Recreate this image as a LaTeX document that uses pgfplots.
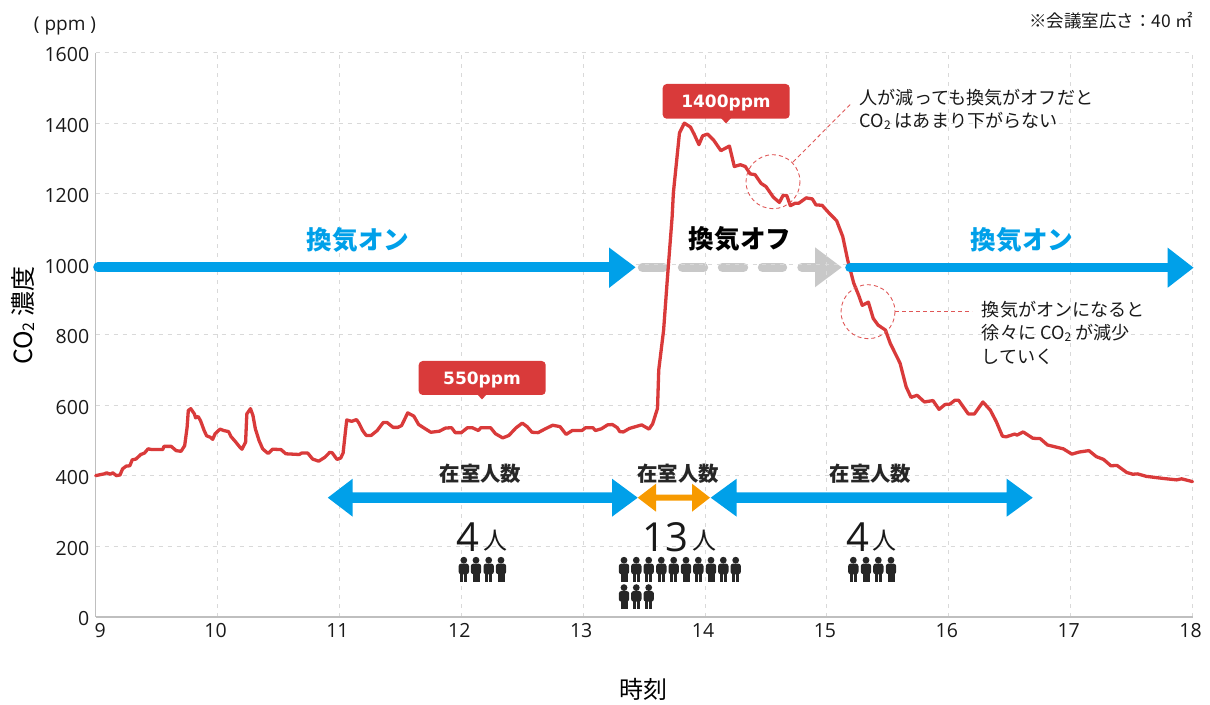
\documentclass[border=0pt]{standalone}
\usepackage{pgfplots}
\pgfplotsset{compat=1.18}
\usepackage{fontspec}
\setmainfont{Open Sans}
\newfontfamily\cjk{Noto Sans CJK JP}
\newfontfamily\dvb{DejaVu Sans}
\definecolor{cred}{HTML}{D93A3A}
\definecolor{cblue}{HTML}{00A0E9}
\definecolor{corange}{HTML}{F79A00}
\definecolor{cgrey}{HTML}{C8C8C8}
\definecolor{cperson}{HTML}{262626}
\newcommand\fs[1]{\fontsize{#1}{#1}\selectfont}
\newcommand\sub{\raisebox{-0.15ex}{\fs{12}2}}
% x, top y
\newcommand\person[2]{%
 \begin{scope}[shift={(#1,#2)}]
  \fill[cperson] (0,3.4) circle (3.4);
  \fill[cperson,rounded corners=2.6] (-5.2,6.8) rectangle (5.2,17.5);
  \fill[cperson] (-3.5,10) rectangle (-0.35,25);
  \fill[cperson] (0.35,10) rectangle (3.5,25);
 \end{scope}}
\pgfplotstableread{
h ppm
9.00 401
9.04 404
9.07 406
9.09 409
9.12 405
9.14 409
9.17 401
9.20 403
9.22 420
9.25 428
9.28 429
9.30 446
9.33 448
9.37 461
9.40 465
9.43 477
9.46 475
9.55 475
9.56 484
9.62 484
9.66 472
9.70 470
9.73 486
9.75 538
9.76 586
9.78 591
9.81 576
9.82 565
9.84 569
9.86 557
9.89 529
9.91 514
9.94 510
9.96 504
9.98 520
10.02 533
10.05 529
10.09 526
10.11 512
10.15 496
10.18 483
10.20 476
10.23 496
10.24 576
10.27 591
10.29 572
10.31 534
10.34 501
10.37 477
10.41 465
10.42 465
10.45 476
10.52 475
10.56 463
10.67 461
10.69 465
10.74 465
10.78 448
10.83 442
10.88 453
10.92 467
10.94 466
10.98 447
11.01 451
11.03 465
11.05 529
11.06 559
11.10 555
11.14 560
11.16 550
11.19 529
11.22 515
11.26 515
11.31 529
11.36 552
11.39 552
11.44 538
11.48 538
11.51 543
11.56 579
11.61 570
11.65 546
11.69 537
11.75 524
11.82 527
11.87 536
11.92 537
11.95 523
12.00 523
12.05 537
12.09 537
12.14 529
12.16 537
12.24 537
12.28 520
12.34 508
12.39 515
12.45 537
12.50 550
12.54 540
12.58 524
12.63 523
12.69 534
12.75 544
12.81 540
12.86 518
12.91 529
12.99 529
13.02 537
13.08 537
13.10 529
13.15 534
13.20 545
13.24 546
13.28 537
13.30 526
13.33 525
13.38 535
13.42 539
13.48 545
13.54 533
13.57 548
13.61 592
13.62 701
13.66 814
13.69 956
13.73 1136
13.74 1203
13.79 1373
13.83 1401
13.88 1390
13.91 1370
13.95 1340
13.98 1365
14.02 1370
14.07 1353
14.13 1323
14.20 1336
14.24 1278
14.29 1283
14.33 1278
14.37 1257
14.41 1255
14.46 1230
14.50 1221
14.56 1191
14.61 1176
14.64 1196
14.67 1196
14.70 1167
14.74 1174
14.77 1174
14.83 1189
14.88 1186
14.91 1169
14.96 1168
15.02 1145
15.08 1124
15.13 1079
15.17 1013
15.22 947
15.26 913
15.29 884
15.34 893
15.38 847
15.42 828
15.48 814
15.52 776
15.56 748
15.60 720
15.65 653
15.69 623
15.74 629
15.80 610
15.87 614
15.92 589
15.97 603
16.01 604
16.05 615
16.08 615
16.16 576
16.21 576
16.28 610
16.34 587
16.39 554
16.44 513
16.47 511
16.54 519
16.56 516
16.61 525
16.69 507
16.75 506
16.81 488
16.94 477
17.01 462
17.07 468
17.15 472
17.21 455
17.27 447
17.33 429
17.38 430
17.46 410
17.51 405
17.55 406
17.62 399
17.76 393
17.87 389
17.91 392
18.00 384
}\co
\begin{document}
\begin{tikzpicture}
\begin{scope}[shift={(-95.7pt,617pt)},x=1pt,y=-1pt]
 \path[use as bounding box] (0,0) rectangle (1210,704);
 % grey dashed arrow below the curve
 \foreach \a/\b in {642.5/663.5,682.5/703.5,722.5/743.5,762.5/782.5,802/815}
  \draw[cgrey,line width=9.4pt,line cap=round] (\a,267.3) -- (\b,267.3);
 \fill[cgrey] (815,247.3) -- (841.7,267.3) -- (815,287.3) -- cycle;
\end{scope}
\begin{axis}[
 scale only axis, width=1096.9pt, height=564pt,
 xmin=9, xmax=18, ymin=0, ymax=1600,
 axis x line=bottom, axis y line=left,
 axis line style={-, draw=black!25, line width=1.2pt},
 xtick={9,...,18}, ytick={0,200,...,1600},
 xticklabels={\hspace*{13pt}9,10,11,12,13,14,15,16,17,18},
 major tick length=0pt,
 grid=major,
 major grid style={draw=black!15, line width=1pt, dash pattern=on 4pt off 5pt},
 /pgf/number format/assume math mode=true,
 /pgf/number format/1000 sep={},
 ticklabel style={font=\fs{19.5},text=black!90},
 xticklabel style={yshift=-3pt,xshift=-2pt},
 yticklabel style={yshift=-2pt,xshift=-3pt},
 clip=false,
 xlabel={\cjk\fs{24}時刻},
 ylabel={\cjk\fs{25}CO\raisebox{-0.15ex}{\fs{16}2} 濃度},
 xlabel style={at={(axis description cs:0.499,-0.129)},anchor=center},
 ylabel style={at={(axis description cs:-0.0663,0.534)},anchor=center},
]
\addplot[cred, line width=3.3pt, line join=round, line cap=round] table[x=h,y=ppm] {\co};
\end{axis}
\begin{scope}[shift={(-95.7pt,617pt)},x=1pt,y=-1pt]
 % ventilation arrows
 \draw[cblue,line width=9.6pt,line cap=round] (98,267.3) -- (612,267.3);
 \fill[cblue] (609,247.5) -- (635.5,267.3) -- (609,288) -- cycle;
 \draw[cblue,line width=9.6pt,line cap=round] (850,267.7) -- (1170,267.7);
 \fill[cblue] (1167.7,247.7) -- (1193.5,267.7) -- (1167.7,287.7) -- cycle;
 \node[text=cblue,font=\cjk\bfseries\fs{25.6}] at (358,240) {換気オン};
 \node[text=black,font=\cjk\bfseries\fs{25.6}] at (740,239) {換気オフ};
 \node[text=cblue,font=\cjk\bfseries\fs{25.6}] at (1022,240) {換気オン};
 % occupancy arrows
 \fill[cblue] (327.8,497.7) -- (352.7,478.7) -- (352.7,492.5) -- (612,492.5) -- (612,478.7) -- (637.7,497.7) -- (612,516.7) -- (612,502.9) -- (352.7,502.9) -- (352.7,516.7) -- cycle;
 \fill[corange] (637.7,497.7) -- (656,483.7) -- (656,494.7) -- (692,494.7) -- (692,483.7) -- (710,497.7) -- (692,511.7) -- (692,500.7) -- (656,500.7) -- (656,511.7) -- cycle;
 \fill[cblue] (710.7,497.7) -- (736.7,478.7) -- (736.7,492.5) -- (1006.7,492.5) -- (1006.7,478.7) -- (1032.7,497.7) -- (1006.7,516.7) -- (1006.7,502.9) -- (736.7,502.9) -- (736.7,516.7) -- cycle;
 \node[font=\cjk\bfseries\fs{20.4},text=black!85] at (480.5,474) {在室人数};
 \node[font=\cjk\bfseries\fs{20.4},text=black!85] at (678,474) {在室人数};
 \node[font=\cjk\bfseries\fs{20.4},text=black!85] at (870.5,474) {在室人数};
 % counts
 \node[anchor=base,font=\fs{40},text=black!90,inner sep=0pt] at (468,552) {4};
 \node[anchor=base,font=\cjk\fs{24},text=black!90,inner sep=0pt] at (495.5,550) {人};
 \node[anchor=base,font=\fs{40},text=black!90,inner sep=0pt] at (665.5,552) {13};
 \node[anchor=base,font=\cjk\fs{24},text=black!90,inner sep=0pt] at (704.5,550) {人};
 \node[anchor=base,font=\fs{40},text=black!90,inner sep=0pt] at (857.5,552) {4};
 \node[anchor=base,font=\cjk\fs{24},text=black!90,inner sep=0pt] at (884.5,550) {人};
 % people
 \foreach \x in {463.8,476,488.7,501,853.3,866,878.3,891,624,636.3,648.7,661.3,673.7,686,698.3,711,723.3,735.7}
  {\person{\x}{556.8}}
 \foreach \x in {624,636.3,648.7}
  {\person{\x}{584.2}}
 % value flags
 \fill[cred,rounded corners=4pt] (418.7,361) rectangle (545.7,395);
 \fill[cred] (477,394) -- (487,394) -- (482,399.5) -- cycle;
 \node[text=white,font=\dvb\bfseries\fs{17}] at (482,379.5) {550ppm};
 \fill[cred,rounded corners=4pt] (662.7,84) rectangle (789.7,118.7);
 \fill[cred] (721,118) -- (731,118) -- (726,123.5) -- cycle;
 \node[text=white,font=\dvb\bfseries\fs{17}] at (726,103) {1400ppm};
 % callouts
 \draw[cred!85,line width=0.9pt,dash pattern=on 4pt off 3pt] (773,181.7) circle (27);
 \draw[cred!85,line width=0.9pt,dash pattern=on 4pt off 3pt] (793,162) -- (851.7,103);
 \draw[cred!85,line width=0.9pt,dash pattern=on 4pt off 3pt] (868,311.7) circle (27);
 \draw[cred!85,line width=0.9pt,dash pattern=on 4pt off 3pt] (895,311.7) -- (972,311.7);
 \node[anchor=west,inner sep=0pt,font=\cjk\fs{18.1},text=black!90] at (859.5,97.5) {人が減っても換気がオフだと};
 \node[anchor=west,inner sep=0pt,font=\cjk\fs{18.1},text=black!90] at (859.5,121) {CO\sub{} はあまり下がらない};
 \node[anchor=west,inner sep=0pt,font=\cjk\fs{18.1},text=black!90] at (981.7,309.5) {換気がオンになると};
 \node[anchor=west,inner sep=0pt,font=\cjk\fs{18.1},text=black!90] at (981.7,333) {徐々に CO\sub{} が減少};
 \node[anchor=west,inner sep=0pt,font=\cjk\fs{18.1},text=black!90] at (981.7,356.5) {していく};
 % corner notes
 \node[font=\fs{19},text=black!90] at (65,26.5) {( ppm )};
 \node[anchor=east,inner sep=0pt,font=\cjk\fs{17.5},text=black!90] at (1193,21) {※会議室広さ：40 ㎡};
\end{scope}
\end{tikzpicture}
\end{document}
